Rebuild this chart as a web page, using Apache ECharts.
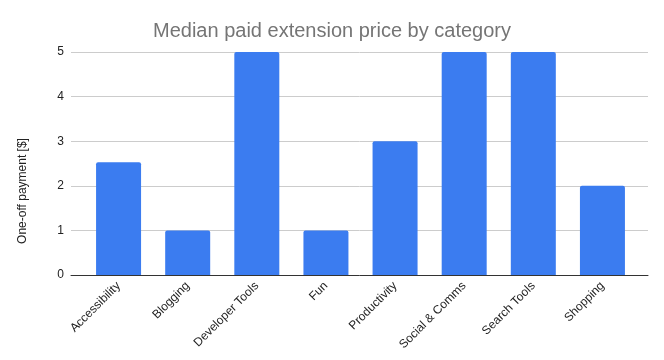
<!DOCTYPE html>
<html>
<head>
<meta charset="utf-8">
<script src="https://cdn.jsdelivr.net/npm/echarts@6/dist/echarts.min.js"></script>
<style>html,body{margin:0;padding:0;background:#fff}#c{width:664px;height:360px}</style>
</head>
<body>
<div id="c"></div>
<script>
const categories = ["Accessibility", "Blogging", "Developer Tools", "Fun", "Productivity", "Social & Comms", "Search Tools", "Shopping"];
const prices = [2.53, 1, 5, 1, 3, 5, 5, 2];
const yTicks = [0, 1, 2, 3, 4, 5];
const titleText = "Median paid extension price by category";
const yTitle = "One-off payment [$]";

const chart = echarts.init(document.getElementById('c'), null, {renderer: 'canvas'});
const font = 'Arial, "Liberation Sans", sans-serif';
chart.setOption({
  animation: false,
  backgroundColor: '#fff',
  title: {
    text: titleText, left: 'center', top: 16,
    textStyle: {fontFamily: font, fontSize: 20, fontWeight: 'normal', color: '#757575'}
  },
  graphic: [{
    type: 'text', x: 23, y: 191, rotation: Math.PI / 2,
    style: {text: yTitle, font: '12px ' + font, fill: '#222', align: 'center', verticalAlign: 'middle'}
  }],
  grid: [
    {left: 71, right: 16, top: 52, bottom: 85},
    {left: 84, right: 27, top: 52, bottom: 85}
  ],
  xAxis: [
    {gridIndex: 0, type: 'value', min: 0, max: 1, axisLabel: {show: false}, axisTick: {show: false},
     splitLine: {show: false}, axisLine: {show: true, lineStyle: {color: '#333', width: 1}}},
    {gridIndex: 1, type: 'category', data: categories, axisTick: {show: false}, axisLine: {show: false},
     axisLabel: {rotate: 45, margin: 9, interval: 0, fontFamily: font, fontSize: 12, color: '#222'}}
  ],
  yAxis: [
    {gridIndex: 0, type: 'value', min: yTicks[0], max: yTicks[yTicks.length - 1], interval: 1,
     axisLine: {show: false}, axisTick: {show: false},
     axisLabel: {margin: 7, fontFamily: font, fontSize: 12, color: '#222'},
     splitLine: {lineStyle: {color: '#cccccc', width: 1}}},
    {gridIndex: 1, type: 'value', min: yTicks[0], max: yTicks[yTicks.length - 1], interval: 1, show: false}
  ],
  series: [{
    type: 'bar', xAxisIndex: 1, yAxisIndex: 1, data: prices, barWidth: 45,
    itemStyle: {color: '#3b7cf0', borderRadius: [2, 2, 0, 0]}
  }]
});
</script>
</body>
</html>
